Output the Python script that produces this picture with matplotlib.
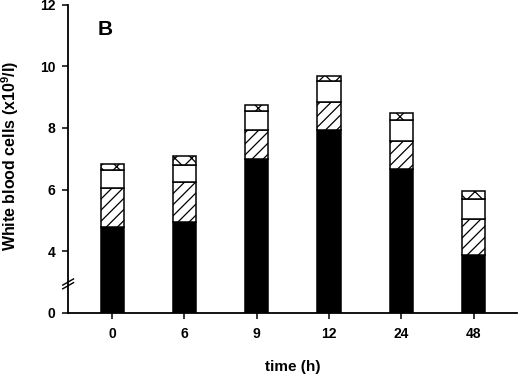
import numpy as np
import matplotlib
matplotlib.use("Agg")
import matplotlib.pyplot as plt

# === DATA (x10^9/l) ===
times = ["0", "6", "9", "12", "24", "48"]
black_seg = [4.78, 4.96, 7.00, 7.93, 6.67, 3.89]
hatched_seg = [1.26, 1.28, 0.93, 0.91, 0.91, 1.14]
white_seg = [0.58, 0.57, 0.61, 0.69, 0.69, 0.66]
cross_seg = [0.22, 0.27, 0.22, 0.14, 0.22, 0.27]
ytick_vals = [0, 4, 6, 8, 10, 12]

# axis is broken between 0 and 4: everything above 4 is shifted down by 2
BREAK_SHIFT = 2.0


def to_axis(v):
    v = np.asarray(v, dtype=float)
    return np.where(v > 0, v - BREAK_SHIFT, 0.0)


plt.rcParams['font.family'] = ['Liberation Sans', 'DejaVu Sans']
plt.rcParams['font.weight'] = 'bold'
plt.rcParams['mathtext.fontset'] = 'custom'
plt.rcParams['mathtext.rm'] = 'Liberation Sans:bold'
plt.rcParams['mathtext.bf'] = 'Liberation Sans:bold'
plt.rcParams['hatch.linewidth'] = 0.9

fig = plt.figure(figsize=(5.2, 3.76), dpi=100)
ax = fig.add_axes([0.131, 0.168, 0.863, 0.8195])

x = np.arange(len(times))
width = 0.32

segments = [
    (black_seg, dict(color='black', edgecolor='black')),
    (hatched_seg, dict(facecolor='white', edgecolor='black', hatch='///')),
    (white_seg, dict(facecolor='white', edgecolor='black')),
    (cross_seg, dict(facecolor='white', edgecolor='black', hatch='xx')),
]

cum = np.zeros(len(times))
for vals, style in segments:
    top = cum + np.array(vals)
    lo = to_axis(cum)
    hi = to_axis(top)
    ax.bar(x, hi - lo, width, bottom=lo, linewidth=1.1, **style)
    cum = top

ax.set_xlim(-0.61, 5.6)
ax.set_ylim(0, 10)
ax.set_yticks(to_axis(ytick_vals))
ax.set_yticklabels([str(v) for v in ytick_vals])
ax.set_xticks(x)
ax.set_xticklabels(times)

for s in ['top', 'right']:
    ax.spines[s].set_visible(False)
for s in ['left', 'bottom']:
    ax.spines[s].set_linewidth(1.3)

ax.tick_params(axis='both', direction='out', length=4, width=1.1,
               labelsize=10, pad=6)
ax.tick_params(axis='y', pad=5)

ax.set_xlabel("time (h)", fontsize=11, fontweight='bold', labelpad=14)
ax.set_ylabel(r"White blood cells (x10$^{\mathbf{9}}$/l)", fontsize=11.5,
              fontweight='bold')
ax.yaxis.set_label_coords(-0.104, 0.51)

ax.text(0.065, 0.95, "B", transform=ax.transAxes, fontsize=15,
        fontweight='bold', va='top', ha='left')

# axis break marks
for dy in (0.0, 0.012):
    ax.plot([-0.012, 0.012], [0.078 + dy, 0.098 + dy], transform=ax.transAxes,
            color='black', linewidth=1.0, clip_on=False)

fig.savefig("out.png", dpi=100)
